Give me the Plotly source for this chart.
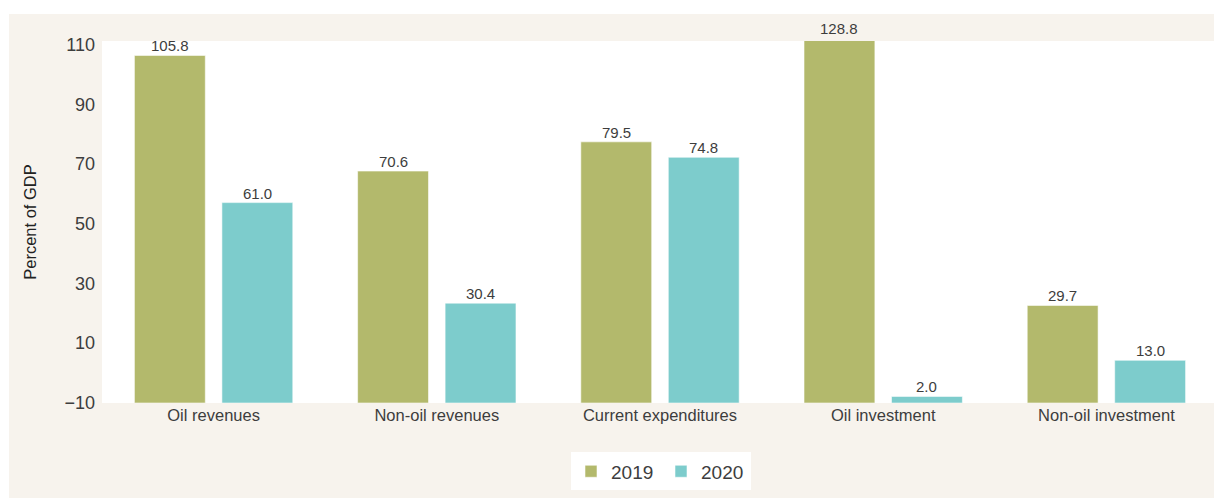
import plotly.graph_objects as go

categories = ["Oil revenues", "Non-oil revenues", "Current expenditures", "Oil investment", "Non-oil investment"]
values_2019 = [105.8, 70.6, 79.5, 128.8, 29.7]
values_2020 = [61.0, 30.4, 74.8, 2.0, 13.0]
tick_values = [-10, 10, 30, 50, 70, 90, 110]

C2019 = "#B3B96C"
C2020 = "#7DCCCC"
BEIGE = "#F7F3ED"
TXT = "#3D3D3D"
FONT = "Liberation Sans, Arial, sans-serif"

W, H = 1222, 498
ML, MR, MT, MB = 94, 12, 33, 102.5
BAR_TOP = 110.2  # range of the bar axis
BARGAP = 0.216
BARGROUPGAP = 0.19

fig = go.Figure()
for name, vals, col in [("2019", values_2019, C2019), ("2020", values_2020, C2020)]:
    fig.add_trace(go.Bar(
        x=categories, y=vals, name=name,
        marker=dict(color=col, line=dict(color="rgba(255,255,255,0.55)", width=1)),
        hoverinfo="x+y",
    ))
# anchor trace for the tick axis (draws nothing)
fig.add_trace(go.Scatter(x=[categories[0]], y=[tick_values[0]], yaxis="y2", mode="none",
                         showlegend=False, hoverinfo="skip"))

plot_w = W - ML - MR
plot_h = H - MT - MB
slot = plot_w / len(categories) * (1 - BARGAP) / 2
annotations = []
for vals, sign in [(values_2019, -1), (values_2020, 1)]:
    for c, v in zip(categories, vals):
        clipped = v > BAR_TOP
        annotations.append(dict(
            x=c, y=min(v, BAR_TOP), xref="x", yref="y", text=f"{v:.1f}",
            showarrow=False, yanchor="bottom", xshift=sign * slot / 2,
            yshift=2 if clipped else -1,
            font=dict(family=FONT, size=15, color=TXT),
        ))

def px_x(p):
    return (p - ML) / plot_w

def px_y(p):
    return (H - MB - p) / plot_h

shapes = [
    dict(type="rect", xref="paper", yref="paper", layer="below",
         x0=px_x(1), x1=1.0, y0=px_y(H), y1=px_y(6),
         fillcolor=BEIGE, line=dict(width=0)),
    dict(type="rect", xref="paper", yref="paper", layer="below",
         x0=0, x1=1, y0=0, y1=1, fillcolor="white", line=dict(width=0)),
]

fig.update_layout(
    width=W, height=H,
    margin=dict(l=ML, r=MR, t=MT, b=MB, pad=0),
    paper_bgcolor="white", plot_bgcolor="white",
    barmode="group", bargap=BARGAP, bargroupgap=BARGROUPGAP,
    font=dict(family=FONT, color=TXT),
    xaxis=dict(showgrid=False, zeroline=False, showline=False, ticks="",
               tickfont=dict(size=16.5, color=TXT)),
    yaxis=dict(range=[0, BAR_TOP], showgrid=False, zeroline=False, showline=False,
               showticklabels=False, ticks=""),
    yaxis2=dict(range=[-10.1, 111.2], tickvals=tick_values, overlaying="y", side="left",
                showgrid=False, zeroline=False, showline=False, ticks="",
                ticklabelstandoff=6,
                tickfont=dict(size=18, color=TXT),
                title=dict(text="Percent of GDP", font=dict(size=16.5, color="#222222"), standoff=23)),
    legend=dict(orientation="h", x=px_x(653), xanchor="center",
                y=px_y(464), yanchor="middle",
                bgcolor="white", font=dict(size=19, color=TXT),
                entrywidth=45, entrywidthmode="pixels", itemwidth=30),
    annotations=annotations,
    shapes=shapes,
)

fig.write_html("out.html")
